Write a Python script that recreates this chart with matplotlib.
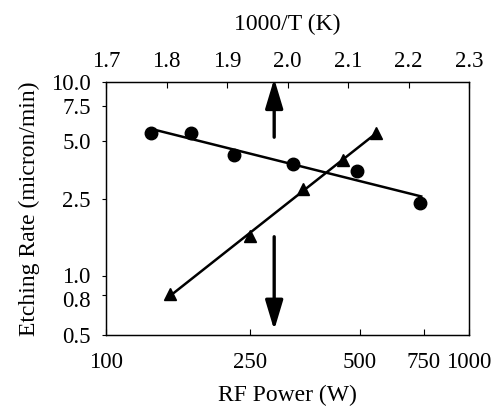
import numpy as np
import matplotlib
matplotlib.use("Agg")
import matplotlib.pyplot as plt
from matplotlib.transforms import ScaledTranslation

# RF power series (bottom axis, triangles)
power = [150, 250, 350, 450, 553]
rate_power = [0.81, 1.61, 2.82, 3.97, 5.48]

# temperature series (top axis, circles)
inv_temp = [1.775, 1.841, 1.912, 2.009, 2.115, 2.219]
rate_temp = [5.48, 5.48, 4.21, 3.77, 3.50, 2.39]

yticks = [0.5, 0.8, 1.0, 2.5, 5.0, 7.5, 10.0]
xticks = [100, 250, 500, 750, 1000]
top_ticks = [1.7, 1.8, 1.9, 2.0, 2.1, 2.2, 2.3]

plt.rcParams['font.family'] = ['Liberation Serif', 'DejaVu Serif']
plt.rcParams['font.size'] = 17

fig = plt.figure(figsize=(5, 4.12), dpi=100)
ax = fig.add_axes([0.212, 0.187, 0.726, 0.614])

ax.set_xscale('log')
ax.set_yscale('log')
ax.set_xlim(100, 1000)
ax.set_ylim(0.5, 10)

# power fit line + triangles
p = np.polyfit(np.log10(power), np.log10(rate_power), 1)
xs = np.array([power[0], power[-1]])
ax.plot(xs, 10 ** np.polyval(p, np.log10(xs)), color='black', lw=1.8)
ax.plot(power, rate_power, '^', color='black', ms=9, ls='none')

ax.set_xticks(xticks)
ax.set_xticklabels([str(v) for v in xticks])
ax.xaxis.set_minor_locator(matplotlib.ticker.NullLocator())
ax.set_yticks(yticks)
ax.set_yticklabels(['%.1f' % v for v in yticks])
ax.yaxis.set_minor_locator(matplotlib.ticker.NullLocator())
ax.tick_params(axis='x', direction='in', length=4, width=0.8, pad=12, labelsize=16.5)
ax.tick_params(axis='y', direction='out', length=3, width=0.8, pad=8, labelsize=16.5)
ax.set_xlabel('RF Power (W)', labelpad=9)
ax.set_ylabel('Etching Rate (micron/min)', labelpad=8)

# the 0.8 / 1.0 labels sit a little apart in the original
for lab in ax.get_yticklabels():
    if lab.get_text() == '0.8':
        lab.set_transform(lab.get_transform() + ScaledTranslation(0, -3 / 72, fig.dpi_scale_trans))
    elif lab.get_text() == '1.0':
        lab.set_transform(lab.get_transform() + ScaledTranslation(0, 1 / 72, fig.dpi_scale_trans))

ax2 = ax.twiny()
ax2.set_xlim(1.7, 2.3)
t = np.polyfit(inv_temp, np.log10(rate_temp), 1)
ts = np.array([1.783, 2.221])
ax2.plot(ts, 10 ** np.polyval(t, ts), color='black', lw=1.8)
ax2.plot(inv_temp, rate_temp, 'o', color='black', ms=9, ls='none')
ax2.set_xticks(top_ticks)
ax2.set_xticklabels(['%.1f' % v for v in top_ticks])
ax2.tick_params(axis='x', direction='in', length=4, width=0.8, pad=7, labelsize=16.5)
ax2.set_xlabel('1000/T (K)', labelpad=15)

# arrows
arrow_x = 1.978
head = '-|>,head_length=1.0,head_width=0.3'
ax2.annotate('', xy=(arrow_x, 10.4), xytext=(arrow_x, 5.2),
             arrowprops=dict(arrowstyle=head, color='black', lw=2.4,
                             mutation_scale=18, shrinkA=0, shrinkB=0),
             annotation_clip=False)
ax2.annotate('', xy=(arrow_x, 0.53), xytext=(arrow_x, 1.6),
             arrowprops=dict(arrowstyle=head, color='black', lw=2.4,
                             mutation_scale=18, shrinkA=0, shrinkB=0))

for a in (ax, ax2):
    for s in a.spines.values():
        s.set_linewidth(0.9)

fig.savefig('out.png', dpi=100)
